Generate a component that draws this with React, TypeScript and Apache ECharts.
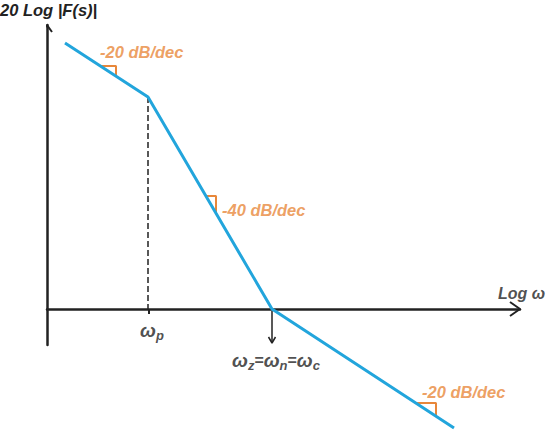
import { useEffect, useRef } from 'react'
import * as echarts from 'echarts'

// Asymptotic magnitude plot, units: 1 unit = one grid step of the sketch
const breakW = [1.8, 10.1, 22.5, 40.7]
const breakMag = [26.6, 21.2, 0, -11.9]

const wP = 10.1
const wC = 22.5

const slopeTexts = ['-20 dB/dec', '-40 dB/dec', '-20 dB/dec']
const slopeTextW = [5.3, 17.5, 37.5]
const slopeTextMag = [25.7, 9.9, -8.3]

// slope triangles: [w start, w end], [mag top, mag bottom]
const triW = [[5.3, 6.9], [15.9, 16.9], [36.9, 38.9]]
const triMag = [[24.3, 23.3], [11.3, 9.6], [-9.4, -10.7]]

const X_MAX = 47.3
const Y_MIN = -3.6
const Y_MAX = 28.4

const INK = '#222222'
const BLUE = '#22a5dc'
const ORANGE = '#e8873a'
const FONT = '"Liberation Sans", Arial, sans-serif'

function plainLine(data: number[][], color: string, width: number, type: any = 'solid') {
  return {
    type: 'line',
    data,
    symbol: 'none',
    silent: true,
    clip: false,
    lineStyle: { color, width, type, cap: 'butt' },
    z: 3,
  }
}

export default function App() {
  const ref = useRef<HTMLDivElement>(null)

  useEffect(() => {
    if (!ref.current) return
    const chart = echarts.init(ref.current, undefined, { renderer: 'svg' })

    const curve = breakW.map((w, i) => [w, breakMag[i]])
    const pMag = breakMag[1]

    const triangles = triW.map((w, i) =>
      plainLine([[w[0], triMag[i][0]], [w[1], triMag[i][0]], [w[1], triMag[i][1]]], ORANGE, 2)
    )

    const omegaRich = {
      w: { fontSize: 19, fontStyle: 'italic', fontFamily: FONT, color: INK, fontWeight: 'bold' },
      s: { fontSize: 13, fontStyle: 'italic', fontFamily: FONT, color: INK, fontWeight: 'bold', padding: [10, 0, 0, 0] },
      e: { fontSize: 16, fontFamily: FONT, color: INK, fontWeight: 'bold' },
    }

    const labelPoints = [
      ...slopeTexts.map((t, i) => ({
        value: [slopeTextW[i], slopeTextMag[i]],
        label: {
          show: true,
          position: 'right',
          distance: 0,
          formatter: t,
          color: ORANGE,
          fontSize: 16.5,
          fontStyle: 'italic',
          fontWeight: 'bold',
          fontFamily: FONT,
        },
      })),
      {
        value: [wP + 0.4, -2.1],
        label: { show: true, position: 'inside', formatter: '{w|ω}{s|p}', rich: omegaRich },
      },
      {
        value: [wC + 0.4, -5.1],
        label: {
          show: true,
          position: 'inside',
          formatter: '{w|ω}{s|z}{e|=}{w|ω}{s|n}{e|=}{w|ω}{s|c}',
          rich: omegaRich,
        },
      },
      {
        value: [45.1, 1.6],
        label: {
          show: true,
          position: 'right',
          distance: 0,
          formatter: 'Log ω',
          color: INK,
          fontSize: 16,
          fontStyle: 'italic',
          fontWeight: 'bold',
          fontFamily: FONT,
        },
      },
    ]

    chart.setOption({
      animation: false,
      backgroundColor: '#ffffff',
      title: {
        text: '20 Log |F(s)|',
        left: 0,
        top: 1,
        padding: 0,
        textStyle: { color: INK, fontSize: 16.5, fontStyle: 'italic', fontWeight: 'bold', fontFamily: FONT },
      },
      grid: { left: 47, right: 27, top: 25, bottom: 85 },
      xAxis: {
        type: 'value',
        min: 0,
        max: X_MAX,
        axisLine: { show: true, onZero: true, lineStyle: { color: INK, width: 2.5 } },
        axisTick: { show: false },
        axisLabel: { show: false },
        splitLine: { show: false },
      },
      yAxis: {
        type: 'value',
        min: Y_MIN,
        max: Y_MAX,
        axisLine: { show: true, onZero: true, lineStyle: { color: INK, width: 2.5 } },
        axisTick: { show: false },
        axisLabel: { show: false },
        splitLine: { show: false },
      },
      series: [
        // axis arrow heads
        plainLine([[X_MAX - 1.0, 0.7], [X_MAX, 0], [X_MAX - 1.0, -0.7]], INK, 2),
        plainLine([[-0.5, Y_MAX - 0.7], [0, Y_MAX], [0.5, Y_MAX - 0.7]], INK, 2),
        // guide at the pole
        plainLine([[wP, pMag], [wP, 0]], INK, 1.5, [6, 3]),
        plainLine([[wP + 0.1, 0], [wP + 0.1, -0.5]], INK, 2),
        // arrow at the crossover
        plainLine([[wC, -0.2], [wC, -3.4]], INK, 1.5),
        plainLine([[wC - 0.35, -2.8], [wC, -3.4], [wC + 0.35, -2.8]], INK, 1.5),
        ...triangles,
        { ...plainLine(curve, BLUE, 3), z: 4 },
        {
          type: 'scatter',
          symbolSize: 0,
          silent: true,
          clip: false,
          data: labelPoints,
          z: 5,
        },
      ],
    })

    return () => chart.dispose()
  }, [])

  return (
    <div style={{ position: 'absolute', left: 0, top: 0, width: 547, height: 430, background: '#fff' }}>
      <div ref={ref} style={{ width: 547, height: 430 }} />
    </div>
  )
}
